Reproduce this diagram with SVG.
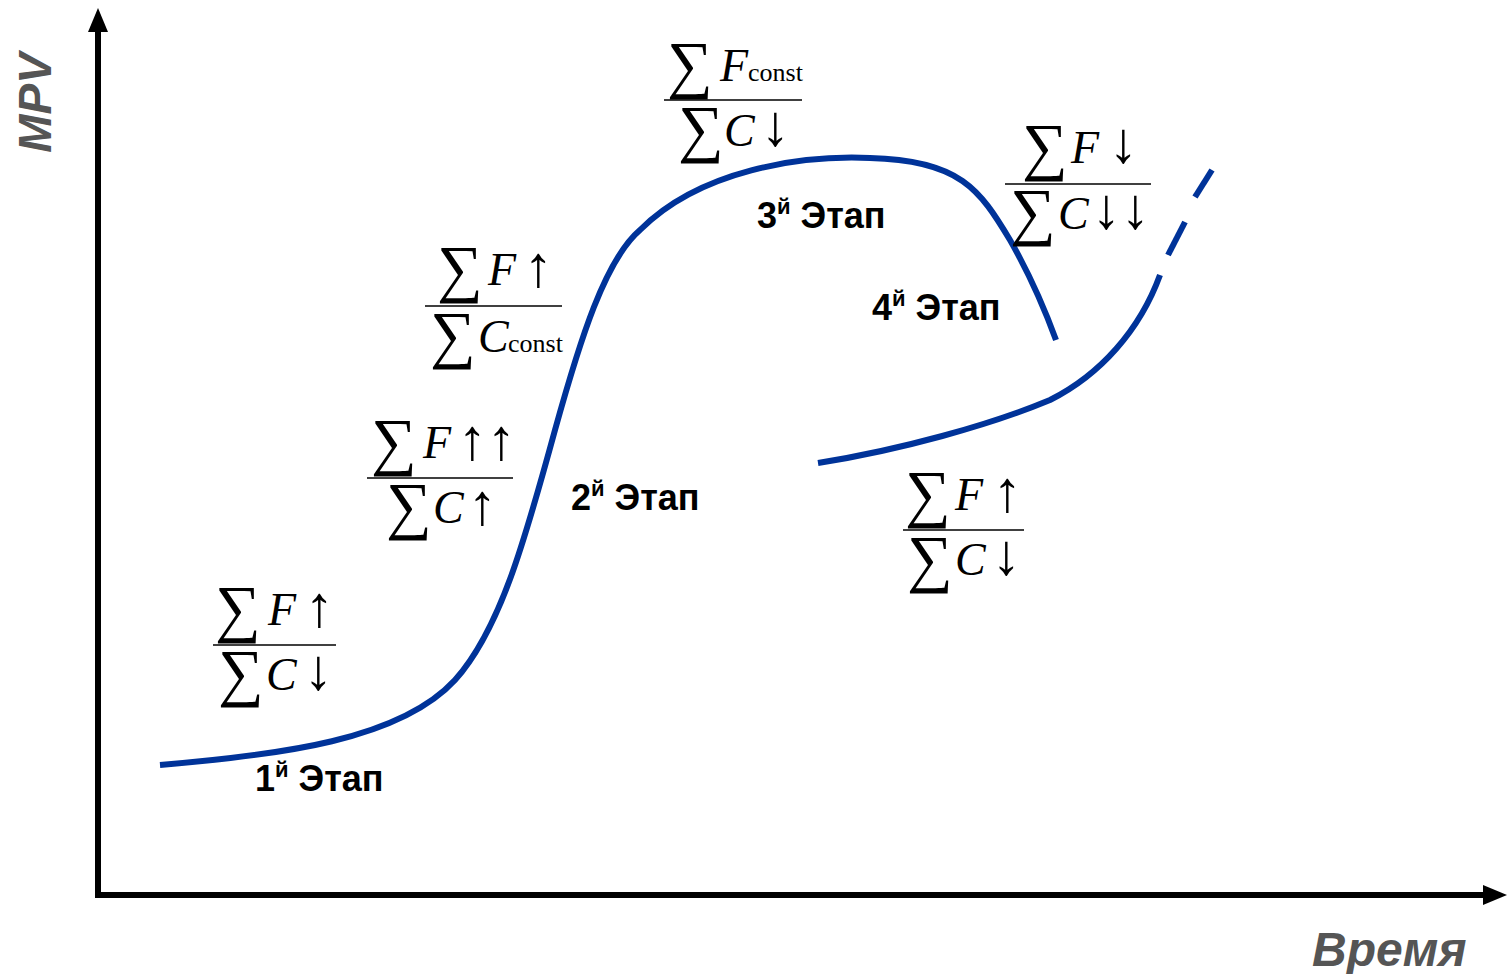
<svg xmlns="http://www.w3.org/2000/svg" width="1507" height="974" viewBox="0 0 1507 974">
<style>
.ax{stroke:#000;stroke-width:6;fill:none}
.curve{stroke:#003399;stroke-width:6;fill:none;stroke-linecap:butt}
.axl{font-family:"Liberation Sans",Arial,sans-serif;font-weight:bold;font-style:italic;fill:#555}
.st{font-family:"Liberation Sans",Arial,sans-serif;font-weight:bold;fill:#000;font-size:36px}
.st .sup{font-size:22px}
.sig{font-family:"Liberation Serif","DejaVu Serif",serif;font-size:64px}
.v{font-family:"Liberation Serif",serif;font-style:italic;font-size:46px}
.ar{font-family:"Liberation Serif","DejaVu Serif",serif;font-size:58px}
.cs{font-family:"Liberation Serif",serif;font-size:26px}
.fl{stroke:#000;stroke-width:1.5}
</style>
<g id="axes">
<line class="ax" x1="98" y1="898" x2="98" y2="30"/>
<polygon points="98,8 88,32 108,32" fill="#000"/>
<line class="ax" x1="95" y1="895" x2="1485" y2="895"/>
<polygon points="1507,895 1483,885 1483,905" fill="#000"/>
<text class="axl" transform="translate(51,103) rotate(-90)" text-anchor="middle" font-size="46">MPV</text>
<text class="axl" x="1312" y="966" font-size="48">Время</text>
</g>
<g id="connectors">
<path class="curve" d="M160,765 C280,755 400,740 455,680 C500,630 525,540 555,430 C580,340 605,260 640,230 C700,170 800,155 870,158 C960,160 980,190 1010,240 C1030,275 1045,310 1056,340"/>
<path class="curve" d="M818,463 C900,450 990,425 1050,400 C1100,375 1140,330 1160,275"/>
<line class="curve" x1="1168" y1="255" x2="1185" y2="222"/>
<line class="curve" x1="1195" y1="197" x2="1212" y2="170"/>
</g>
<g id="stage1">
<text class="st" x="255" y="791">1<tspan class="sup" dy="-14">й</tspan><tspan dy="14"> Этап</tspan></text>
</g>
<g id="stage2">
<text class="st" x="571" y="510">2<tspan class="sup" dy="-14">й</tspan><tspan dy="14"> Этап</tspan></text>
</g>
<g id="stage3">
<text class="st" x="757" y="228">3<tspan class="sup" dy="-14">й</tspan><tspan dy="14"> Этап</tspan></text>
</g>
<g id="stage4">
<text class="st" x="872" y="320">4<tspan class="sup" dy="-14">й</tspan><tspan dy="14"> Этап</tspan></text>
</g>
<g id="f1">
<text class="sig" x="215" y="630">∑</text><text class="v" x="268" y="625">F</text><text class="ar" x="305" y="626">↑</text>
<line class="fl" x1="213" y1="645" x2="336" y2="645"/>
<text class="sig" x="218" y="694">∑</text><text class="v" x="266" y="690">C</text><text class="ar" x="304" y="689">↓</text>
</g>
<g id="f2">
<text class="sig" x="371" y="463">∑</text><text class="v" x="423" y="458">F</text><text class="ar" x="458" y="459">↑↑</text>
<line class="fl" x1="367" y1="478" x2="513" y2="478"/>
<text class="sig" x="386" y="527">∑</text><text class="v" x="433" y="523">C</text><text class="ar" x="468" y="524">↑</text>
</g>
<g id="f3">
<text class="sig" x="437" y="290">∑</text><text class="v" x="488" y="285">F</text><text class="ar" x="524" y="286">↑</text>
<line class="fl" x1="425" y1="306" x2="562" y2="306"/>
<text class="sig" x="430" y="356">∑</text><text class="v" x="478" y="352">C</text><text class="cs" x="508" y="352">const</text>
</g>
<g id="f4">
<text class="sig" x="667" y="86">∑</text><text class="v" x="720" y="81">F</text><text class="cs" x="748" y="81">const</text>
<line class="fl" x1="664" y1="100" x2="802" y2="100"/>
<text class="sig" x="678" y="150">∑</text><text class="v" x="724" y="146">C</text><text class="ar" x="761" y="145">↓</text>
</g>
<g id="f5">
<text class="sig" x="1022" y="168">∑</text><text class="v" x="1071" y="163">F</text><text class="ar" x="1109" y="162">↓</text>
<line class="fl" x1="1005" y1="184" x2="1151" y2="184"/>
<text class="sig" x="1010" y="233">∑</text><text class="v" x="1058" y="229">C</text><text class="ar" x="1092" y="228">↓↓</text>
</g>
<g id="f6">
<text class="sig" x="905" y="515">∑</text><text class="v" x="955" y="510">F</text><text class="ar" x="993" y="511">↑</text>
<line class="fl" x1="903" y1="530" x2="1024" y2="530"/>
<text class="sig" x="907" y="580">∑</text><text class="v" x="955" y="575">C</text><text class="ar" x="992" y="574">↓</text>
</g>
</svg>
